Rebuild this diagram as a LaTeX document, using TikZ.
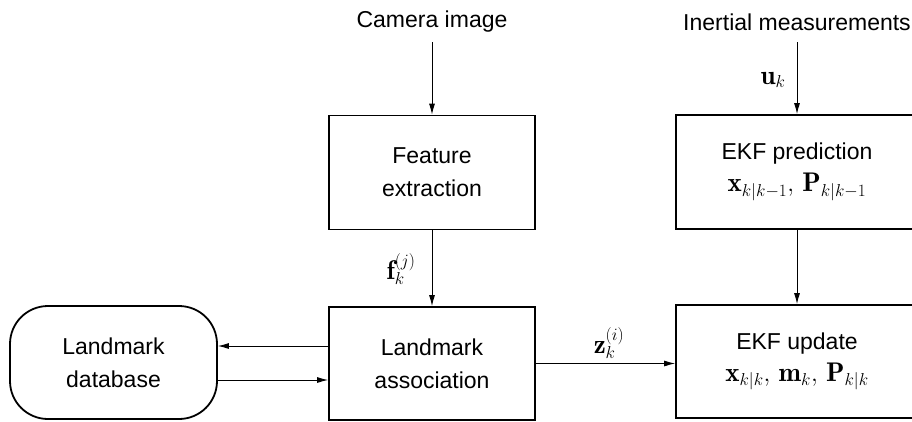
\documentclass[tikz,border=0pt]{standalone}
\usepackage{fontspec}
\newfontfamily\hv{Liberation Sans}
\usetikzlibrary{arrows.meta}
\newcommand{\mth}[1]{{\fontsize{27}{30}\selectfont$#1$}}
\begin{document}
\begin{tikzpicture}[x=1pt,y=-1pt,
  txt/.style={font=\hv\fontsize{23}{33}\selectfont, align=center, inner sep=0pt},
  blk/.style={txt, draw, line width=1.8pt, minimum width=206pt, minimum height=114pt},
  wblk/.style={blk, minimum width=242pt},
  lbl/.style={font=\fontsize{27}{30}\selectfont, inner sep=0pt},
  arr/.style={line width=0.9pt, -{Latex[length=11pt,width=6pt]}}]
\useasboundingbox (0,0) rectangle (912,421);
\clip (0,0) rectangle (912,421);
\node[txt] (cam) at (432,22) {Camera image};
\node[txt] (inert) at (797,22) {Inertial measurements};
\coordinate (camout) at (432,42);
\coordinate (inout) at (797,42);
\node[blk] (fe) at (432,172.5) {Feature\\extraction};
\node[blk, minimum height=113pt] (la) at (432,363.5) {Landmark\\association};
\node[blk, minimum height=113pt, minimum width=207pt, rounded corners=38pt] (db) at (113.5,362.5) {Landmark\\database};
\node[wblk] (pred) at (797,172) {EKF prediction\\[-1pt]\mth{\mathbf{x}_{k|k-1},\,\mathbf{P}_{k|k-1}}};
\node[wblk, minimum height=113pt] (upd) at (797,361.5) {EKF update\\[-1pt]\mth{\mathbf{x}_{k|k},\,\mathbf{m}_{k},\,\mathbf{P}_{k|k}}};
\draw[arr] (camout) -- (fe.north);
\draw[arr] (fe.south) -- (la.north);
\draw[arr] ([yshift=17.5pt]la.west) -- ([yshift=17.5pt]la.west -| db.east);
\draw[arr] ([yshift=-17.5pt]db.east) -- ([yshift=-17.5pt]db.east -| la.west);
\draw[arr] (la.east) -- (la.east -| upd.west);
\draw[arr] (inout) -- (pred.north);
\draw[arr] (pred.south) -- (upd.north);
\node[lbl] (flbl) at (401,269) {$\mathbf{f}_k^{(j)}$};
\node[lbl] (zlbl) at (609,343) {$\mathbf{z}_k^{(i)}$};
\node[lbl] (ulbl) at (773,80) {$\mathbf{u}_k$};
\end{tikzpicture}
\end{document}
